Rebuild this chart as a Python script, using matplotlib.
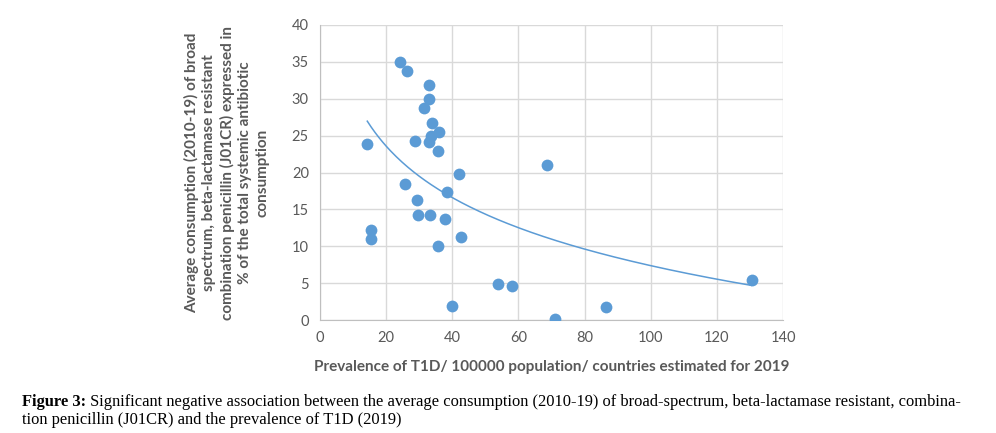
import numpy as np
import matplotlib
matplotlib.use("Agg")
import matplotlib.pyplot as plt

# prevalence of T1D (per 100000) vs J01CR share of systemic antibiotic consumption (%)
prevalence = [24.3, 26.3, 33.1, 33.1, 31.3, 33.8, 36.0, 33.6, 33.1, 28.7,
              35.6, 14.3, 42.1, 68.5, 25.6, 38.4, 29.4, 29.6, 33.2, 37.7,
              15.4, 15.4, 42.7, 35.6, 53.8, 58.2, 39.9, 71.2, 86.4, 130.5]
consumption = [35.0, 33.8, 31.9, 29.9, 28.8, 26.7, 25.5, 24.9, 24.1, 24.3,
               22.9, 23.8, 19.8, 21.0, 18.4, 17.4, 16.3, 14.2, 14.3, 13.7,
               12.2, 11.0, 11.2, 10.1, 4.9, 4.6, 1.9, 0.1, 1.8, 5.4]

x_ticks = [0, 20, 40, 60, 80, 100, 120, 140]
y_ticks = [0, 5, 10, 15, 20, 25, 30, 35, 40]

xlabel = "Prevalence of T1D/ 100000 population/ countries estimated for 2019"
ylabel = ("Average consumption (2010-19) of broad\n"
          "spectrum, beta-lactamase resistant\n"
          "combination penicillin (J01CR) expressed in\n"
          "% of the total systemic antibiotic\n"
          "consumption")
cap_bold = "Figure 3:"
cap_line1 = (" Significant negative association between the average consumption (2010-19) "
             "of broad-spectrum, beta-lactamase resistant, combina-")
cap_line2 = "tion penicillin (J01CR) and the prevalence of T1D (2019)"

blue = "#5B9BD5"
grey_txt = "#595959"

plt.rcParams['font.family'] = ['Lato', 'DejaVu Sans']

fig = plt.figure(figsize=(9.96, 4.33), dpi=100)
ax = fig.add_axes([320/996, 1 - 320/433, 463/996, 295/433])

ax.scatter(prevalence, consumption, s=72, color=blue, zorder=3, linewidths=0)

# logarithmic trendline, least squares on ln(x) like Excel
xs = np.array(prevalence)
ys = np.array(consumption)
b, a = np.polyfit(np.log(xs), ys, 1)
xt = np.linspace(xs.min(), xs.max(), 200)
ax.plot(xt, a + b*np.log(xt), color=blue, lw=1.1, zorder=2)

ax.set_xlim(0, 140)
ax.set_ylim(0, 40)
ax.set_xticks(x_ticks)
ax.set_yticks(y_ticks)
ax.grid(True, color="#D9D9D9", lw=1)
ax.set_axisbelow(True)
for s in ["top", "right"]:
    ax.spines[s].set_visible(False)
for s in ["left", "bottom"]:
    ax.spines[s].set_color("#BFBFBF")
ax.tick_params(length=0, labelsize=10.5, labelcolor=grey_txt, pad=8)

ax.set_xlabel(xlabel, fontsize=11, fontweight="bold", color=grey_txt, labelpad=11)
ax.set_ylabel(ylabel, fontsize=11, fontweight="bold", color=grey_txt,
              labelpad=16, linespacing=1.3)

# caption under the chart
fs_cap = 11.9
t1 = fig.text(22/996, 1 - 402/433, cap_bold, fontsize=fs_cap, fontweight="bold",
              family="Liberation Serif", va="center")
fig.canvas.draw()
bb = t1.get_window_extent()
fig.text(bb.x1/fig.bbox.width, 1 - 402/433, cap_line1, fontsize=fs_cap,
         family="Liberation Serif", va="center")
fig.text(22/996, 1 - 420/433, cap_line2, fontsize=fs_cap,
         family="Liberation Serif", va="center")

fig.savefig("out.png", dpi=100)
